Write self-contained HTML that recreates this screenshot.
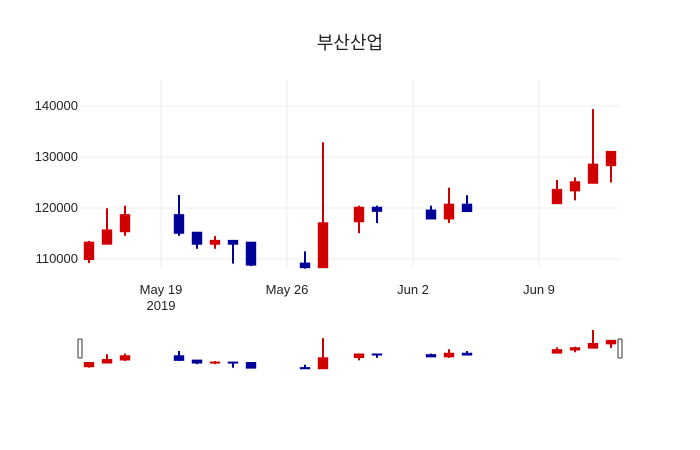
<!DOCTYPE html>
<html><head><meta charset="utf-8"><style>
body{margin:0;background:#fff}
svg{display:block;font-family:"Liberation Sans","Noto Sans CJK KR",sans-serif}
</style></head><body>
<svg id="chart" width="700" height="450">
<text x="350" y="49" text-anchor="middle" font-size="18" fill="#222" font-family="'Liberation Sans','Noto Sans CJK KR',sans-serif">부산산업</text>
<g id="grid"></g><g id="axes"></g><g id="marks"></g><g id="slider"></g>
</svg>
<script>
const dates=["2019-05-15","2019-05-16","2019-05-17","2019-05-20","2019-05-21","2019-05-22","2019-05-23","2019-05-24","2019-05-27","2019-05-28","2019-05-30","2019-05-31","2019-06-03","2019-06-04","2019-06-05","2019-06-10","2019-06-11","2019-06-12","2019-06-13"];
const opens=[109900,112900,115350,118700,115250,112900,113650,113300,109200,108300,117300,120150,119600,117850,120750,120850,123350,124850,128300];
const highs=[113550,119950,120450,122550,115250,114500,113650,113300,111500,132900,120450,120450,120450,124000,122500,125500,126000,139400,131100];
const lows=[109200,112900,114550,114550,112000,112000,109100,108600,108100,108300,115050,117050,117850,117050,119300,120850,121500,124850,125000];
const closes=[113300,115700,118700,115050,112900,113650,112900,108800,108300,117100,120150,119350,117850,120750,119300,123650,125150,128600,131100];
const yTicks=[110000,120000,130000,140000];
const xTicks=["2019-05-19","2019-05-26","2019-06-02","2019-06-09"];
const xTickLabels=["May 19","May 26","Jun 2","Jun 9"];

const NS="http://www.w3.org/2000/svg";
const L=80,R=620,T=80,B=268;
const x0=Date.parse("2019-05-14T12:00:00Z"),x1=Date.parse("2019-06-13T12:00:00Z");
const y0=108235,y1=145100;
const xs=d=>L+(Date.parse(d+"T00:00:00Z")-x0)/(x1-x0)*(R-L);
const ys=v=>B-(v-y0)/(y1-y0)*(B-T);
const SB=369,ST=330,sy0=108100,sy1=139400;
const sys=v=>SB-(v-sy0)/(sy1-sy0)*(SB-ST);
function mk(tag,attrs,parent){const e=document.createElementNS(NS,tag);for(const k in attrs)e.setAttribute(k,attrs[k]);parent.appendChild(e);return e;}
const grid=document.getElementById('grid'),axes=document.getElementById('axes'),marks=document.getElementById('marks'),slider=document.getElementById('slider');
yTicks.forEach(v=>{
  const ln=mk('line',{x1:L,x2:R,y1:ys(v),y2:ys(v),stroke:'#eee','stroke-width':1},grid);
  
  
  const t=mk('text',{x:L-2,y:ys(v)+4,'text-anchor':'end','font-size':13,fill:'#222'},axes);
  t.textContent=v;
  
  
});
xTicks.forEach((d,i)=>{
  const ln=mk('line',{x1:xs(d),x2:xs(d),y1:T,y2:B,stroke:'#eee','stroke-width':1},grid);
  
  
  const t=mk('text',{x:xs(d),y:294,'text-anchor':'middle','font-size':13,fill:'#222'},axes);
  t.textContent=xTickLabels[i];
  
  
});
const yr=mk('text',{x:xs(xTicks[0]),y:310,'text-anchor':'middle','font-size':13,fill:'#222'},axes);
yr.textContent="2019";



const bw=9.4;
dates.forEach((d,i)=>{
  const up=closes[i]>=opens[i];
  const col=up?'#d00000':'#000099';
  const cx=xs(d);
  const g=mk('g',{},marks);
  
  
  mk('line',{x1:cx,x2:cx,y1:ys(highs[i]),y2:ys(lows[i]),stroke:col,'stroke-width':2},g);
  const top=ys(Math.max(opens[i],closes[i])),bot=ys(Math.min(opens[i],closes[i]));
  mk('rect',{x:cx-bw/2,y:top,width:bw,height:Math.max(bot-top,1),fill:col,stroke:col,'stroke-width':1},g);
  const sg=mk('g',{},slider);
  
  
  mk('line',{x1:cx,x2:cx,y1:sys(highs[i]),y2:sys(lows[i]),stroke:col,'stroke-width':2},sg);
  const st=sys(Math.max(opens[i],closes[i])),sb=sys(Math.min(opens[i],closes[i]));
  mk('rect',{x:cx-bw/2,y:st,width:bw,height:Math.max(sb-st,1),fill:col,stroke:col,'stroke-width':1},sg);
});
[L-2,R-2].forEach((hx,i)=>{
  const h=mk('rect',{x:hx,y:339,width:4,height:19,rx:1,fill:'#fff',stroke:'#333','stroke-width':1},slider);
  
  
});
</script>
</body></html>
